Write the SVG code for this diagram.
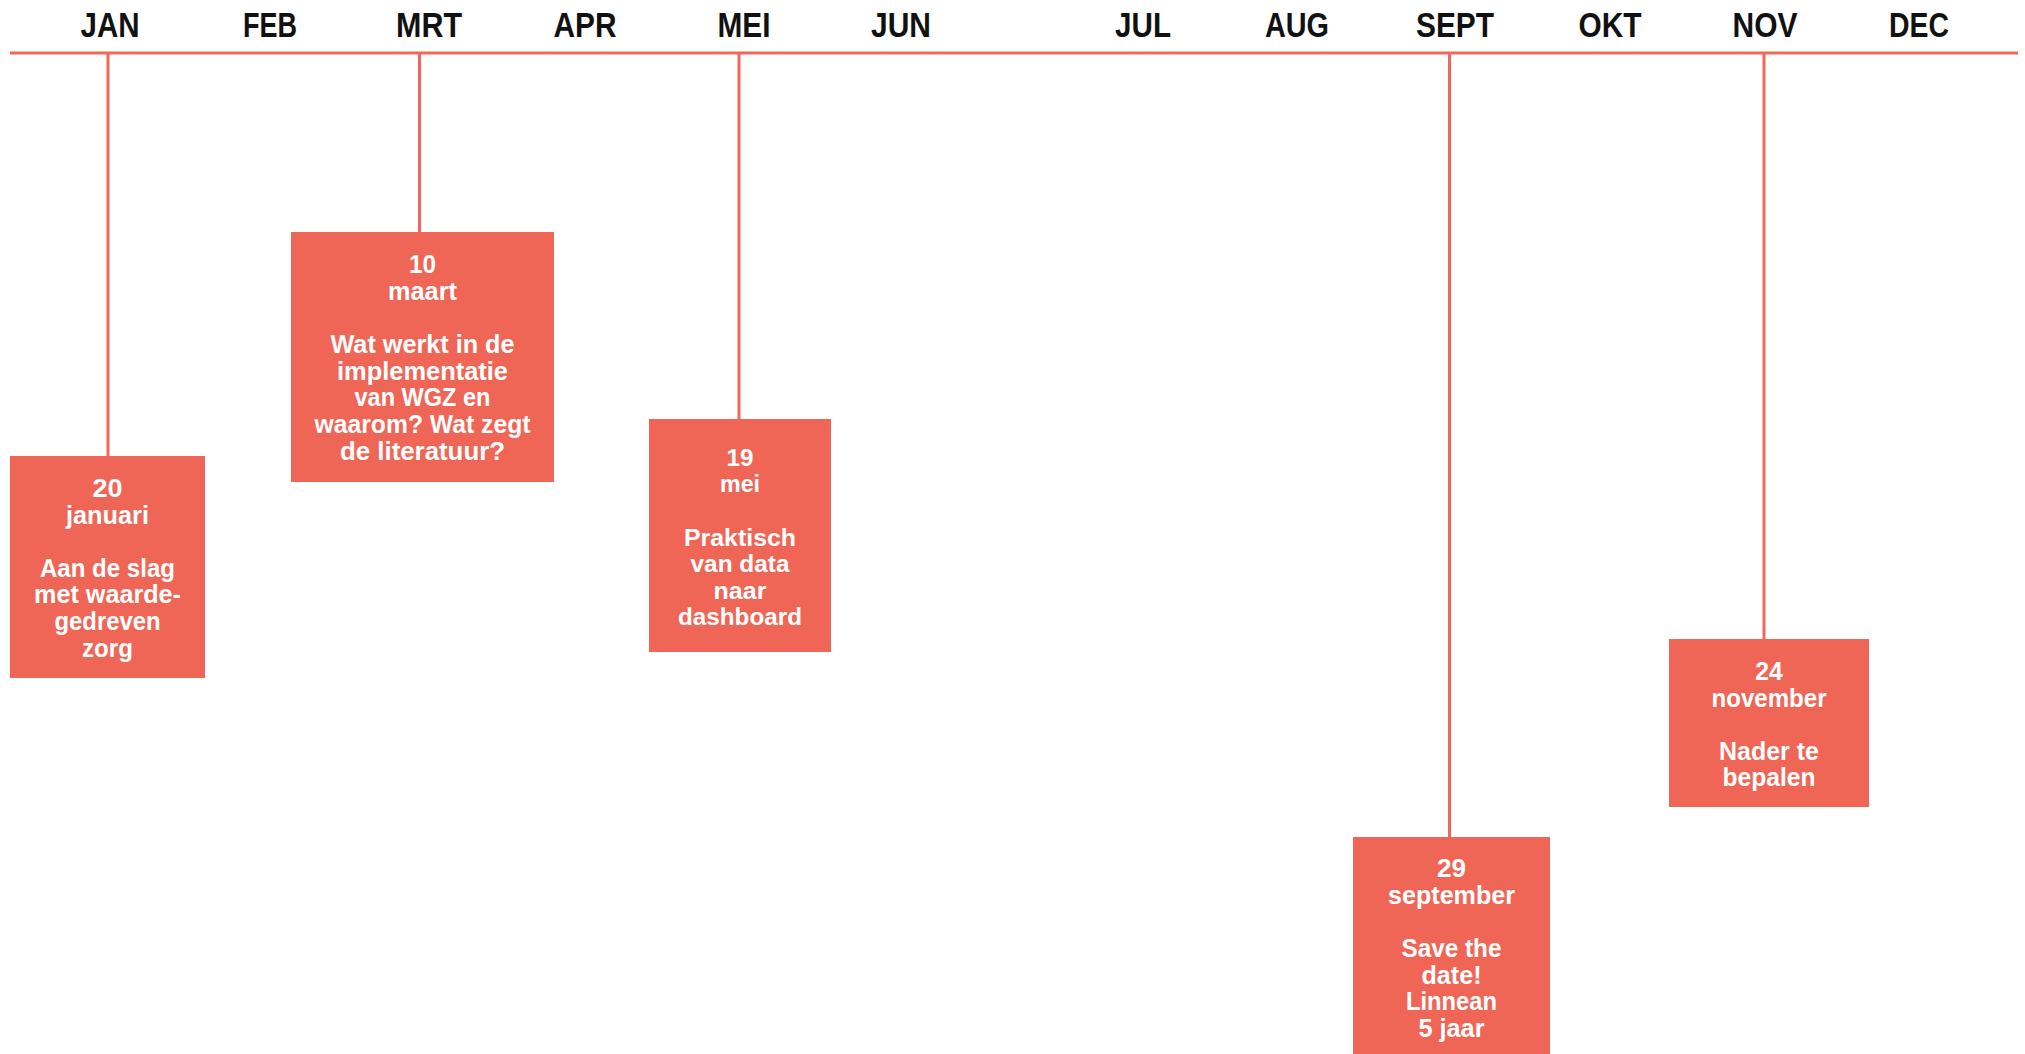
<svg xmlns="http://www.w3.org/2000/svg" width="2025" height="1054" viewBox="0 0 2025 1054">
<style>
.bg{fill:#ffffff}
.axis{stroke:#f0675b;stroke-width:3;fill:none}
.conn{stroke:#f0675b;stroke-width:3;fill:none}
.month{font-family:"Liberation Sans",Arial,sans-serif;font-weight:700;font-size:35px;fill:#111111;text-anchor:middle}
.box{fill:#ef6657}
.t{font-family:"Liberation Sans",Arial,sans-serif;font-weight:700;font-size:26px;fill:#ffffff;text-anchor:middle}
.t3{font-family:"Liberation Sans",Arial,sans-serif;font-weight:700;font-size:23px;fill:#ffffff;text-anchor:middle}
</style>
<rect class="bg" x="0" y="0" width="2025" height="1054"/>
<g id="months">
<text class="month" x="110" y="37" textLength="59" lengthAdjust="spacingAndGlyphs">JAN</text>
<text class="month" x="270" y="37" textLength="54" lengthAdjust="spacingAndGlyphs">FEB</text>
<text class="month" x="429" y="37" textLength="66" lengthAdjust="spacingAndGlyphs">MRT</text>
<text class="month" x="585" y="37" textLength="63" lengthAdjust="spacingAndGlyphs">APR</text>
<text class="month" x="744" y="37" textLength="53" lengthAdjust="spacingAndGlyphs">MEI</text>
<text class="month" x="901" y="37" textLength="60" lengthAdjust="spacingAndGlyphs">JUN</text>
<text class="month" x="1143" y="37" textLength="56" lengthAdjust="spacingAndGlyphs">JUL</text>
<text class="month" x="1297" y="37" textLength="64" lengthAdjust="spacingAndGlyphs">AUG</text>
<text class="month" x="1455" y="37" textLength="78" lengthAdjust="spacingAndGlyphs">SEPT</text>
<text class="month" x="1610" y="37" textLength="63" lengthAdjust="spacingAndGlyphs">OKT</text>
<text class="month" x="1765" y="37" textLength="65" lengthAdjust="spacingAndGlyphs">NOV</text>
<text class="month" x="1919" y="37" textLength="60" lengthAdjust="spacingAndGlyphs">DEC</text>
</g>
<g id="connectors">
<line class="axis" x1="10" y1="53" x2="2018" y2="53"/>
<line class="conn" x1="108" y1="53" x2="108" y2="456"/>
<line class="conn" x1="419.5" y1="53" x2="419.5" y2="232"/>
<line class="conn" x1="739" y1="53" x2="739" y2="419"/>
<line class="conn" x1="1449.5" y1="53" x2="1449.5" y2="837"/>
<line class="conn" x1="1764" y1="53" x2="1764" y2="639"/>
</g>
<g id="event-jan">
<rect class="box" x="10" y="456" width="195" height="222"/>
<text class="t" x="107.5" y="497" textLength="30" lengthAdjust="spacingAndGlyphs">20</text>
<text class="t" x="107.5" y="523.6" textLength="83" lengthAdjust="spacingAndGlyphs">januari</text>
<text class="t" x="107.5" y="576.8" textLength="135" lengthAdjust="spacingAndGlyphs">Aan de slag</text>
<text class="t" x="107.5" y="603.4" textLength="147" lengthAdjust="spacingAndGlyphs">met waarde-</text>
<text class="t" x="107.5" y="630" textLength="106" lengthAdjust="spacingAndGlyphs">gedreven</text>
<text class="t" x="107.5" y="656.6" textLength="51" lengthAdjust="spacingAndGlyphs">zorg</text>
</g>
<g id="event-mrt">
<rect class="box" x="291" y="232" width="263" height="250"/>
<text class="t" x="422.5" y="273.3" textLength="27" lengthAdjust="spacingAndGlyphs">10</text>
<text class="t" x="422.5" y="299.9" textLength="69" lengthAdjust="spacingAndGlyphs">maart</text>
<text class="t" x="422.5" y="353.1" textLength="184" lengthAdjust="spacingAndGlyphs">Wat werkt in de</text>
<text class="t" x="422.5" y="379.7" textLength="171" lengthAdjust="spacingAndGlyphs">implementatie</text>
<text class="t" x="422.5" y="406.3" textLength="136" lengthAdjust="spacingAndGlyphs">van WGZ en</text>
<text class="t" x="422.5" y="432.9" textLength="216" lengthAdjust="spacingAndGlyphs">waarom? Wat zegt</text>
<text class="t" x="422.5" y="459.5" textLength="165" lengthAdjust="spacingAndGlyphs">de literatuur?</text>
</g>
<g id="event-mei">
<rect class="box" x="649" y="419" width="182" height="233"/>
<text class="t3" x="740" y="465.7" textLength="27" lengthAdjust="spacingAndGlyphs">19</text>
<text class="t3" x="740" y="492.3" textLength="40" lengthAdjust="spacingAndGlyphs">mei</text>
<text class="t3" x="740" y="545.5" textLength="112" lengthAdjust="spacingAndGlyphs">Praktisch</text>
<text class="t3" x="740" y="572.1" textLength="99" lengthAdjust="spacingAndGlyphs">van data</text>
<text class="t3" x="740" y="598.7" textLength="53" lengthAdjust="spacingAndGlyphs">naar</text>
<text class="t3" x="740" y="625.3" textLength="124" lengthAdjust="spacingAndGlyphs">dashboard</text>
</g>
<g id="event-sept">
<rect class="box" x="1353" y="837" width="197" height="217"/>
<text class="t" x="1451.5" y="877.3" textLength="29" lengthAdjust="spacingAndGlyphs">29</text>
<text class="t" x="1451.5" y="903.9" textLength="127" lengthAdjust="spacingAndGlyphs">september</text>
<text class="t" x="1451.5" y="957.1" textLength="100" lengthAdjust="spacingAndGlyphs">Save the</text>
<text class="t" x="1451.5" y="983.7" textLength="60" lengthAdjust="spacingAndGlyphs">date!</text>
<text class="t" x="1451.5" y="1010.3" textLength="91" lengthAdjust="spacingAndGlyphs">Linnean</text>
<text class="t" x="1451.5" y="1036.9" textLength="66" lengthAdjust="spacingAndGlyphs">5 jaar</text>
</g>
<g id="event-nov">
<rect class="box" x="1669" y="639" width="200" height="168"/>
<text class="t" x="1769" y="680" textLength="27.5" lengthAdjust="spacingAndGlyphs">24</text>
<text class="t" x="1769" y="706.6" textLength="115" lengthAdjust="spacingAndGlyphs">november</text>
<text class="t" x="1769" y="759.8" textLength="100" lengthAdjust="spacingAndGlyphs">Nader te</text>
<text class="t" x="1769" y="786.4" textLength="93" lengthAdjust="spacingAndGlyphs">bepalen</text>
</g>
</svg>
